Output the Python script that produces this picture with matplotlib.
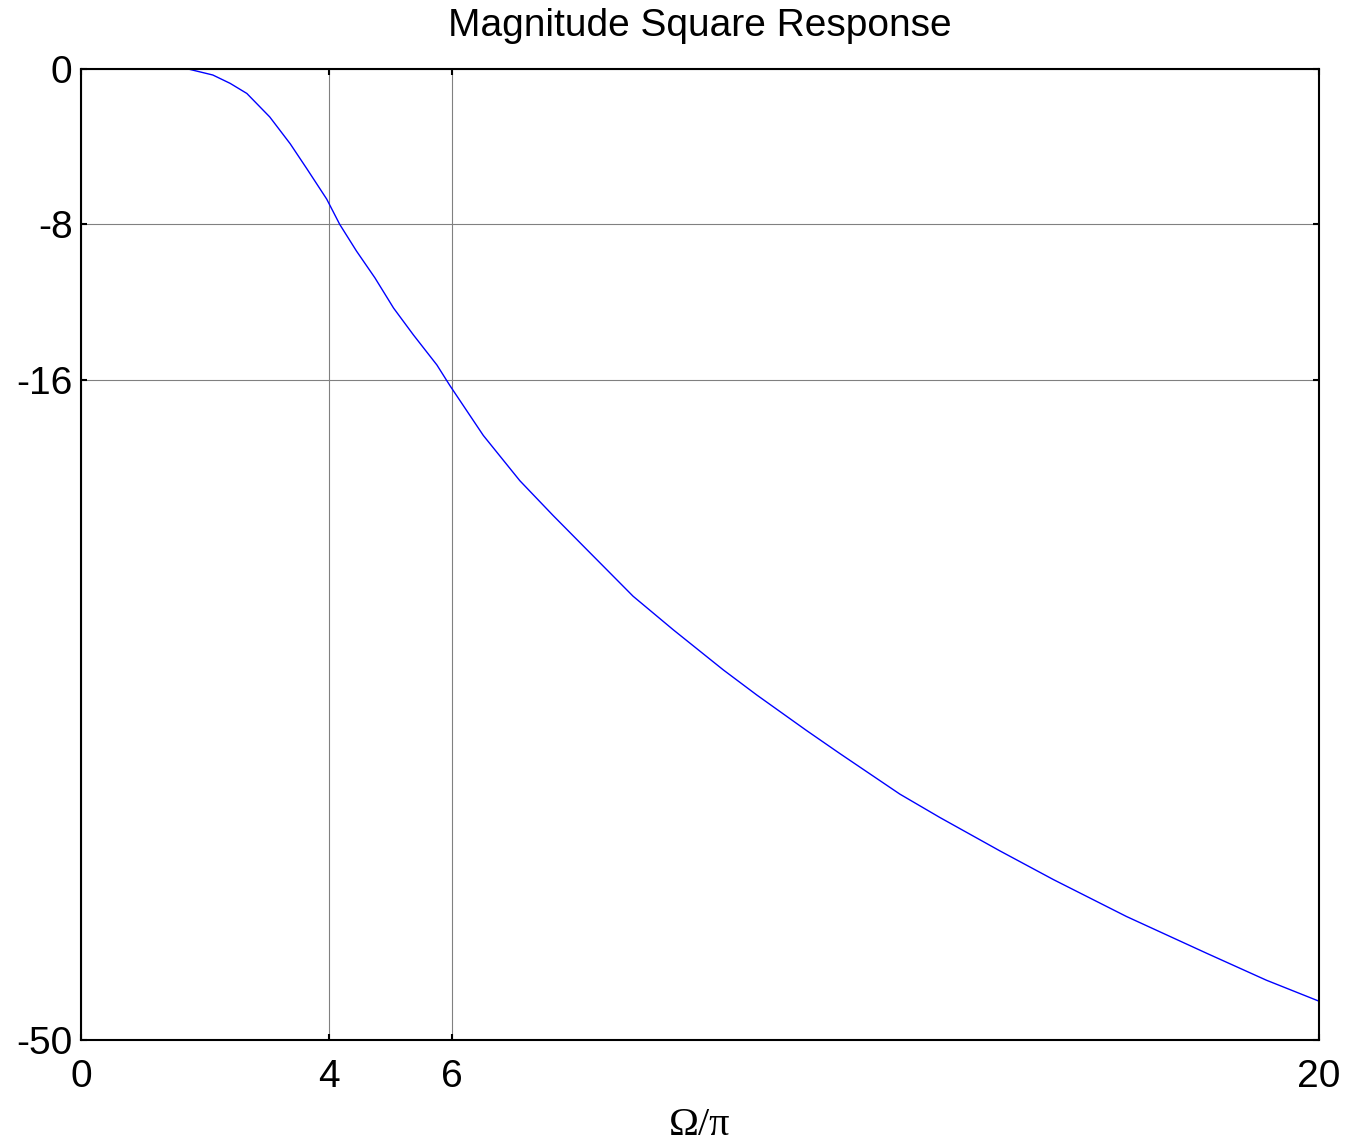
import numpy as np
import matplotlib
matplotlib.use("Agg")
import matplotlib.pyplot as plt

plt.rcParams["axes.unicode_minus"] = False

# Digitised magnitude-square response (dB) vs normalised frequency
omega = [0.0, 0.5, 1.0, 1.5, 1.73, 2.13, 2.41, 2.68, 3.05, 3.38, 3.65, 3.97,
         4.18, 4.45, 4.75, 5.05, 5.37, 5.75, 5.96, 6.50, 7.09, 7.63, 8.17,
         8.92, 9.57, 10.38, 10.92, 11.72, 12.26, 13.23, 13.88, 14.85,
         15.71, 16.89, 18.19, 19.15, 20.0]
mag_db = [0.0, 0.0, 0.0, 0.0, 0.0, -0.31, -0.74, -1.26, -2.47, -3.85, -5.14,
          -6.70, -8.0, -9.37, -10.76, -12.31, -13.69, -15.24, -16.3, -18.87,
          -21.2, -23.0, -24.74, -27.15, -28.88, -30.95, -32.24, -34.06,
          -35.25, -37.34, -38.55, -40.27, -41.74, -43.64, -45.54,
          -46.92, -48.0]

x_ticks = [0, 4, 6, 20]
y_ticks = [-50, -16, -8, 0]

fig = plt.figure(figsize=(13.47, 11.44), dpi=100)
ax = fig.add_axes([0.0601, 0.0909, 0.9191, 0.8488])

ax.plot(omega, mag_db, color="#0000ff", linewidth=1.0)

ax.set_xlim(0, 20)
ax.set_ylim(-50, 0)
ax.set_xticks(x_ticks)
ax.set_yticks(y_ticks)
ax.grid(True, color="#808080", linewidth=0.8)

ax.tick_params(direction="in", length=4, width=1.5, top=True, right=True,
               labelsize=28)
ax.tick_params(axis="y", pad=6)
ax.tick_params(axis="x", pad=14)
for lbl in ax.get_xticklabels() + ax.get_yticklabels():
    lbl.set_family("Liberation Sans")
for s in ax.spines.values():
    s.set_linewidth(1.5)

ax.set_title("Magnitude Square Response", fontsize=28,
             family="Liberation Sans", pad=24)
ax.set_xlabel("Ω/π", fontsize=29, family="Liberation Serif", labelpad=8)

fig.savefig("out.png", dpi=100)
